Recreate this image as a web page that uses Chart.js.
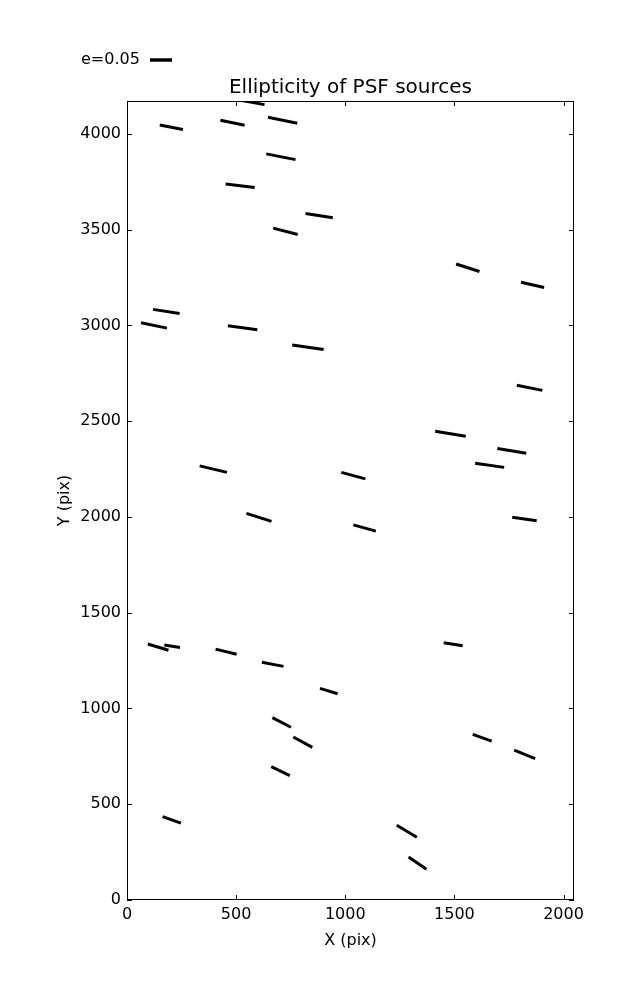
<!DOCTYPE html>
<html><head><meta charset="utf-8">
<script src="https://cdn.jsdelivr.net/npm/chart.js@4.4.1/dist/chart.umd.min.js"></script>
<style>html,body{margin:0;padding:0;background:#fff}#wrap{width:637px;height:1000px}</style>
</head><body><div id="wrap"><canvas id="c" width="637" height="1000"></canvas></div>
<script>
// Whisker start / end points in data (pixel-of-detector) units
const startX = [500,150,428,646,638,452,818,670,119,64,462,757,1508,1805,333,547,982,1786,1412,1697,1595,1037,1765,95,171,406,618,884,666,762,661,163,1451,1584,1774,1236,1290];
const startY = [4180,4047,4071,4087,3896,3739,3585,3508,3084,3014,2998,2898,3321,3226,2267,2019,2233,2688,2448,2358,2280,1959,1999,1337,1331,1310,1241,1105,952,851,696,435,1343,865,783,390,225];
const endX   = [630,256,539,780,772,585,943,782,241,183,597,901,1615,1911,458,662,1092,1903,1552,1829,1728,1140,1877,190,243,502,717,965,751,849,746,247,1538,1671,1870,1328,1372];
const endY   = [4153,4023,4045,4056,3866,3720,3562,3475,3062,2986,2977,2874,3282,3198,2233,1977,2199,2661,2422,2333,2259,1926,1980,1304,1318,1283,1220,1077,902,797,649,401,1328,830,738,328,161];

const xTicks = [0,500,1000,1500,2000];
const yTicks = [0,500,1000,1500,2000,2500,3000,3500,4000];
const xRange = [0,2048];
const yRange = [0,4172];
const titleText = 'Ellipticity of PSF sources';
const xLabel = 'X (pix)';
const yLabel = 'Y (pix)';
const legendLabel = 'e=0.05';

const FONT = "'DejaVu Sans', 'Liberation Sans', sans-serif";

const datasets = startX.map((x0, i) => ({
  data: [{x: x0, y: startY[i]}, {x: endX[i], y: endY[i]}],
  showLine: true,
  borderColor: '#000',
  borderWidth: 3,
  borderCapStyle: 'butt',
  pointRadius: 0,
  pointHoverRadius: 0,
  clip: 0
}));

const framePlugin = {
  id: 'frame',
  afterDraw(chart) {
    const {ctx, chartArea: a, scales} = chart;
    ctx.save();
    ctx.strokeStyle = '#000';
    ctx.lineWidth = 1;
    ctx.strokeRect(a.left + 0.5, a.top + 0.5, a.right - a.left - 1, a.bottom - a.top - 1);
    const tl = 5;
    ctx.beginPath();
    xTicks.forEach(v => {
      const px = Math.round(scales.x.getPixelForValue(v)) + 0.5;
      ctx.moveTo(px, a.bottom); ctx.lineTo(px, a.bottom - tl);
      ctx.moveTo(px, a.top); ctx.lineTo(px, a.top + tl);
    });
    yTicks.forEach(v => {
      const py = Math.round(scales.y.getPixelForValue(v)) + 0.5;
      ctx.moveTo(a.left, py); ctx.lineTo(a.left + tl, py);
      ctx.moveTo(a.right, py); ctx.lineTo(a.right - tl, py);
    });
    ctx.stroke();
    // title, centred over the plot area
    ctx.fillStyle = '#000';
    ctx.font = '20px ' + FONT;
    ctx.textAlign = 'center';
    ctx.textBaseline = 'alphabetic';
    ctx.fillText(titleText, (a.left + a.right) / 2, 92.7);
    // legend key
    ctx.font = '16px ' + FONT;
    ctx.textBaseline = 'middle';
    ctx.textAlign = 'left';
    ctx.fillText(legendLabel, 81, 60);
    ctx.lineWidth = 3.5;
    ctx.lineCap = 'butt';
    ctx.beginPath();
    ctx.moveTo(150, 60); ctx.lineTo(172, 60);
    ctx.stroke();
    ctx.restore();
  }
};

new Chart(document.getElementById('c'), {
  type: 'scatter',
  data: {datasets},
  options: {
    responsive: false,
    animation: false,
    devicePixelRatio: 1,
    layout: {padding: {left: 0, right: 63, top: 101, bottom: 0}},
    plugins: {
      legend: {display: false},
      tooltip: {enabled: false},
      title: {display: false, text: titleText}
    },
    scales: {
      x: {
        type: 'linear',
        min: xRange[0], max: xRange[1],
        afterBuildTicks: s => { s.ticks = xTicks.map(v => ({value: v})); },
        afterFit: s => { s.height = 100; },
        grid: {display: false, drawTicks: false},
        border: {display: false},
        ticks: {color: '#000', font: {family: FONT, size: 16}, padding: 5, maxRotation: 0, autoSkip: false,
                callback: v => String(v)},
        title: {display: true, text: xLabel, color: '#000', font: {family: FONT, size: 16}, padding: {bottom: 50}}
      },
      y: {
        type: 'linear',
        min: yRange[0], max: yRange[1],
        afterBuildTicks: s => { s.ticks = yTicks.map(v => ({value: v})); },
        afterFit: s => { s.width = 127; },
        grid: {display: false, drawTicks: false},
        border: {display: false},
        ticks: {color: '#000', font: {family: FONT, size: 16}, padding: 6, autoSkip: false,
                callback: v => String(v)},
        title: {display: true, text: yLabel, color: '#000', font: {family: FONT, size: 16}, padding: {top: 55}}
      }
    }
  },
  plugins: [framePlugin]
});
</script>
</body></html>
